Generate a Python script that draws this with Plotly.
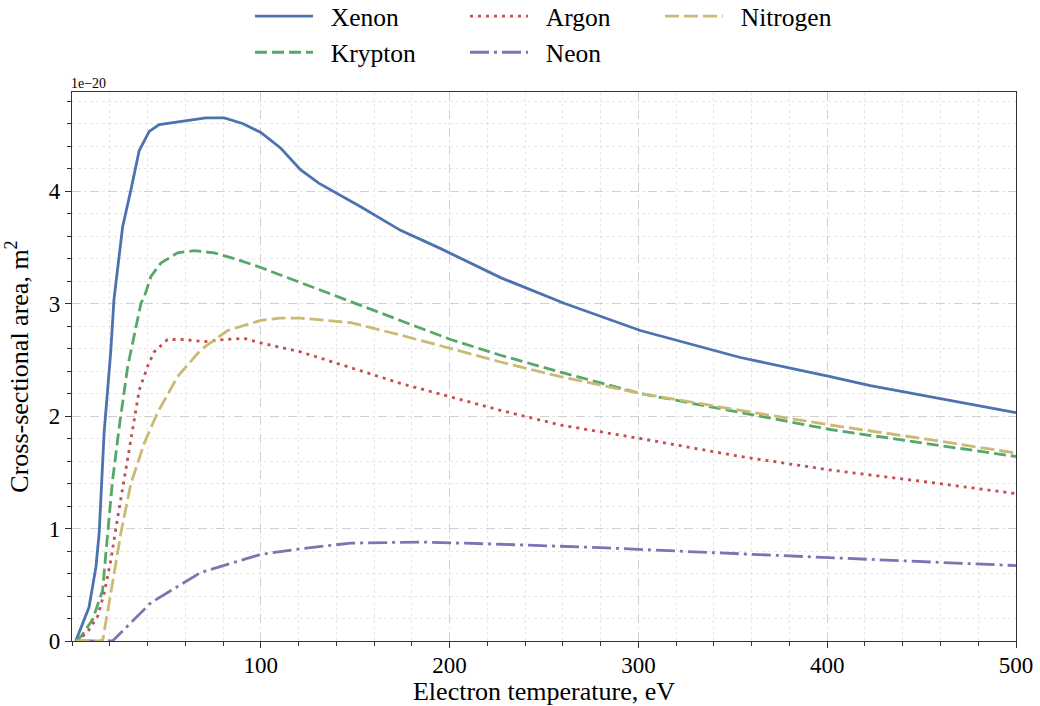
import plotly.graph_objects as go

# Cross-sections in units of 1e-20 m^2 versus electron temperature (eV)
xenon_T = [2, 9, 12.7, 14.4, 17, 20.6, 22.2, 26.8, 31.2, 35.6, 40.9, 46.2, 70.9, 80.6, 90.3, 100,
           110.6, 121, 130.7, 152.9, 174, 195, 227, 261, 301, 354, 401.6, 422.8, 500]
xenon_sigma = [0, 0.3, 0.66, 0.96, 1.85, 2.59, 3.03, 3.68, 4.01, 4.36, 4.53, 4.59, 4.65, 4.65, 4.60, 4.52,
               4.38, 4.19, 4.07, 3.86, 3.65, 3.49, 3.23, 3.0, 2.76, 2.52, 2.35, 2.27, 2.03]

krypton_T = [2, 4.8, 10.9, 16.2, 18.9, 21.5, 25, 29.5, 36.5, 38.3, 41.8, 47.1, 55.9, 64.7, 75.3, 87.7, 100,
             131.7, 174, 200.5, 227, 258.7, 301, 354, 401.6, 454.5, 500]
krypton_sigma = [0, 0.04, 0.19, 0.45, 0.96, 1.43, 1.9, 2.44, 3.0, 3.06, 3.24, 3.36, 3.45, 3.47, 3.45, 3.39, 3.32,
                 3.12, 2.85, 2.68, 2.54, 2.39, 2.2, 2.03, 1.88, 1.75, 1.64]

argon_T = [2, 4.8, 8.3, 13.6, 17.1, 20.6, 24.2, 27.7, 31.2, 35.6, 40, 43.5, 50.6, 59.4, 70, 80.6, 91.2, 100,
           121, 147.6, 174, 200.5, 227, 258.7, 301, 354, 401.6, 454.5, 500]
argon_sigma = [0, 0.03, 0.08, 0.22, 0.43, 0.72, 1.1, 1.46, 1.79, 2.23, 2.44, 2.57, 2.68, 2.68, 2.66, 2.68, 2.69, 2.65,
               2.57, 2.43, 2.29, 2.17, 2.05, 1.92, 1.80, 1.64, 1.52, 1.41, 1.31]

neon_T = [2, 21.5, 41.8, 68.3, 100, 121, 147.6, 184.7, 227, 280, 333, 386, 439, 500]
neon_sigma = [0, 0, 0.34, 0.61, 0.77, 0.82, 0.87, 0.88, 0.86, 0.83, 0.79, 0.75, 0.71, 0.67]

nitrogen_T = [2, 16.2, 20.6, 25.9, 31.2, 38.3, 45.3, 55.9, 68.3, 82.4, 100, 110, 121, 147.6, 174, 200.5, 227,
              258.7, 301, 354, 401.6, 454.5, 500]
nitrogen_sigma = [0, 0, 0.43, 0.96, 1.4, 1.76, 2.03, 2.35, 2.59, 2.76, 2.85, 2.87, 2.87, 2.83, 2.72, 2.60, 2.48,
                  2.35, 2.2, 2.05, 1.92, 1.79, 1.67]

x_ticks = [100, 200, 300, 400, 500]
y_ticks = [0, 1, 2, 3, 4]

FONT = "'Liberation Serif', 'Times New Roman', Times, serif"
W, H = 1040, 706
ML, MR, MT, MB = 72, 24, 92, 65
PW, PH = W - ML - MR, H - MT - MB
PAD = "\u00a0\u00a0"

series = [
    # name, T, sigma, colour, dash, legend, group
    ("Xenon", xenon_T, xenon_sigma, "#4C72B0", "solid", "legend", "a"),
    ("Krypton", krypton_T, krypton_sigma, "#55A868", "12px,5px", "legend", "b"),
    ("Argon", argon_T, argon_sigma, "#C44E52", "3px,5px", "legend2", "c"),
    ("Neon", neon_T, neon_sigma, "#8172B2", "19px,5px,3px,5px", "legend2", "d"),
    ("Nitrogen", nitrogen_T, nitrogen_sigma, "#CCB974", "14px,5px", "legend3", "e"),
]

fig = go.Figure()
for name, T, s, col, dash, leg, grp in series:
    fig.add_trace(go.Scatter(
        x=T, y=s, mode="lines", name=PAD + name,
        line=dict(color=col, width=2.8, dash=dash),
        legend=leg, legendgroup=grp,
    ))


def px_x(p):
    return (p - ML) / PW


def px_y(p):
    return 1 - (p - MT) / PH


legend_common = dict(
    yanchor="top", xanchor="left",
    orientation="v", font=dict(family=FONT, size=25.5, color="black"),
    bgcolor="rgba(0,0,0,0)", tracegroupgap=0, itemwidth=58,
)
fig.update_layout(
    legend=dict(x=px_x(250), y=px_y(-7), **legend_common),
    legend2=dict(x=px_x(465), y=px_y(-7), **legend_common),
    legend3=dict(x=px_x(660), y=px_y(-7), **legend_common),
)

grid_major = "rgba(200,200,200,0.8)"
grid_minor = "rgba(215,215,215,0.6)"

fig.update_xaxes(
    range=[0, 500], tickmode="array", tickvals=x_ticks, ticktext=[str(v) for v in x_ticks],
    ticks="outside", ticklen=6, tickwidth=1, tickcolor="#333", ticklabelstandoff=-3,
    showline=True, linecolor="#333", linewidth=1.2, mirror=True,
    showgrid=True, gridcolor=grid_major, griddash="dash", gridwidth=1,
    zeroline=False,
    minor=dict(dtick=20, tick0=0, ticks="outside", ticklen=3.5, tickcolor="#333",
               showgrid=True, gridcolor=grid_minor, griddash="dot", gridwidth=1),
    tickfont=dict(family=FONT, size=23, color="black"),
    title=dict(text="Electron temperature, eV", font=dict(family=FONT, size=26, color="black"), standoff=8),
)
fig.update_yaxes(
    range=[0, 4.88], tickmode="array", tickvals=y_ticks,
    ticktext=[str(v) for v in y_ticks],
    ticks="outside", ticklen=6, tickwidth=1, tickcolor="#333",
    showline=True, linecolor="#333", linewidth=1.2, mirror=True,
    showgrid=True, gridcolor=grid_major, griddash="dash", gridwidth=1,
    zeroline=False,
    minor=dict(dtick=0.2, tick0=0, ticks="outside", ticklen=3.5, tickcolor="#333",
               showgrid=True, gridcolor=grid_minor, griddash="dot", gridwidth=1),
    tickfont=dict(family=FONT, size=23, color="black"),
    title=dict(text="Cross-sectional area, m<sup>2</sup>", font=dict(family=FONT, size=26, color="black"),
               standoff=12),
)

# scale factor of the y values
fig.add_annotation(
    text="1e\u221220", xref="paper", yref="paper", x=0, y=1, xanchor="left", yanchor="bottom",
    showarrow=False, font=dict(family=FONT, size=14, color="black"), yshift=-1, xshift=-3,
)

fig.update_layout(
    width=W, height=H,
    margin=dict(l=ML, r=MR, t=MT, b=MB, autoexpand=False),
    paper_bgcolor="white", plot_bgcolor="white",
    showlegend=True,
)

fig.write_html("out.html")
